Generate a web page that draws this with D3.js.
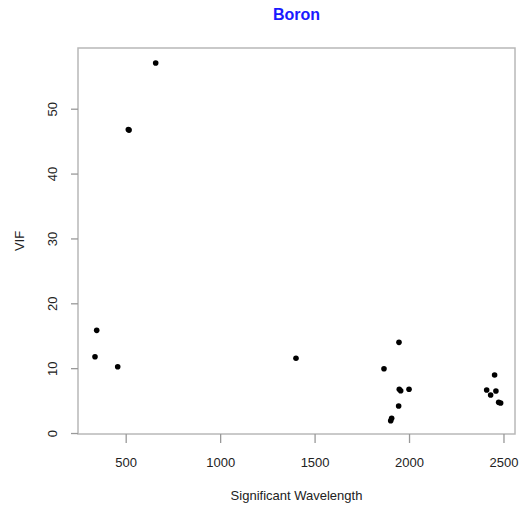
<!DOCTYPE html>
<html>
<head>
<meta charset="utf-8">
<script src="https://cdn.jsdelivr.net/npm/d3@7"></script>
<style>
  html, body { margin: 0; padding: 0; background: #fff; }
  svg { display: block; font-family: "Liberation Sans", Arial, sans-serif; }
</style>
</head>
<body>
<div id="chart"></div>
<script>
// ---- data ----
const wavelength = [346.5, 337.5, 457.7, 514, 518, 658.8, 1401.5, 1867.4, 1946.8, 1948.4, 1955.8, 2000, 1945, 1908, 1903, 2453, 2411, 2432, 2460, 2474.5, 2485];
const vif        = [15.83, 11.76, 10.22, 46.8, 46.7, 57.05, 11.52, 9.91, 13.98, 6.74, 6.52, 6.74, 4.16, 2.27, 1.90, 8.94, 6.63, 5.86, 6.48, 4.73, 4.63];
const xTicks = [500, 1000, 1500, 2000, 2500];
const yTicks = [0, 10, 20, 30, 40, 50];
const xDomain = [247.5, 2561];
const yDomain = [-0.15, 59.36];
const titleText = "Boron";
const xLabel = "Significant Wavelength";
const yLabel = "VIF";

// ---- layout ----
const W = 520, H = 506;
const L = 78, R = 515, T = 48, B = 434;

const svg = d3.select("#chart").append("svg").attr("width", W).attr("height", H);

const x = d3.scaleLinear().domain(xDomain).range([L, R]);
const y = d3.scaleLinear().domain(yDomain).range([B, T]);

// box
svg.append("rect")
  .attr("x", L).attr("y", T).attr("width", R - L).attr("height", B - T)
  .attr("fill", "none").attr("stroke", "#b8b8b8").attr("stroke-width", 1.5);

// x axis
const gx = svg.append("g").attr("transform", `translate(0,${B})`)
  .call(d3.axisBottom(x).tickValues(xTicks).tickSize(9).tickPadding(15).tickFormat(d3.format("d")));
gx.select(".domain").remove();
gx.selectAll(".tick line").attr("stroke", "#999").attr("stroke-width", 1.3);
gx.selectAll(".tick text").attr("fill", "#222").style("font-size", "13px");

// y axis
const gy = svg.append("g").attr("transform", `translate(${L},0)`)
  .call(d3.axisLeft(y).tickValues(yTicks).tickSize(7).tickFormat(d3.format("d")));
gy.select(".domain").remove();
gy.selectAll(".tick line").attr("stroke", "#999").attr("stroke-width", 1.3);
gy.selectAll(".tick text")
  .attr("fill", "#222").style("font-size", "13px")
  .attr("x", null).attr("dy", null)
  .attr("text-anchor", "middle")
  .attr("dominant-baseline", "central")
  .attr("transform", "translate(-26,0) rotate(-90)");

// points
svg.append("g").selectAll("circle")
  .data(wavelength.map((w, i) => ({ w, v: vif[i] })))
  .join("circle")
  .attr("cx", d => x(d.w)).attr("cy", d => y(d.v))
  .attr("r", 2.8).attr("fill", "#000");

// title
svg.append("text")
  .attr("x", (L + R) / 2).attr("y", 14)
  .attr("text-anchor", "middle").attr("dominant-baseline", "central")
  .attr("fill", "#1a1aff").style("font-size", "16px").style("font-weight", "bold")
  .text(titleText);

// axis labels
svg.append("text")
  .attr("x", (L + R) / 2).attr("y", 495)
  .attr("text-anchor", "middle").attr("dominant-baseline", "central")
  .attr("fill", "#222").style("font-size", "13px")
  .text(xLabel);

svg.append("text")
  .attr("transform", `translate(19,${(T + B) / 2}) rotate(-90)`)
  .attr("text-anchor", "middle").attr("dominant-baseline", "central")
  .attr("fill", "#222").style("font-size", "13px")
  .text(yLabel);
</script>
</body>
</html>
